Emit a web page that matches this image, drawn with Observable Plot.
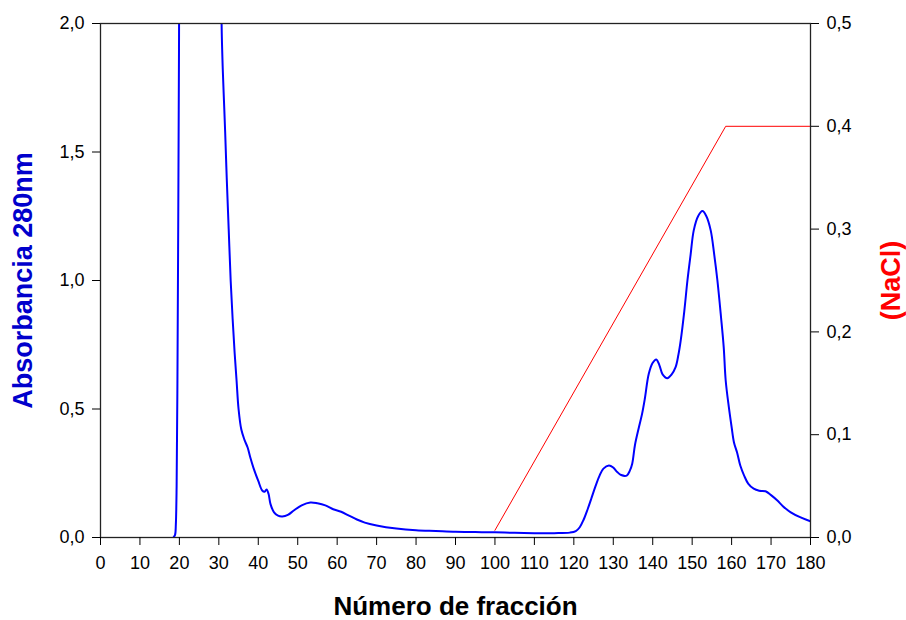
<!DOCTYPE html>
<html>
<head>
<meta charset="utf-8">
<script src="https://cdn.jsdelivr.net/npm/d3@7"></script>
<script src="https://cdn.jsdelivr.net/npm/@observablehq/plot@0.6"></script>
<style>
  html, body { margin: 0; padding: 0; background: #fff; }
</style>
</head>
<body>
<div id="chart"></div>
<script>
// Absorbance 280 nm (left axis) per fraction number
const fraction = [18.5, 18.9, 19.1, 19.3, 19.5, 19.7, 19.9, 20.1, 21, 25, 30, 30.5, 30.7, 31, 31.3, 31.6, 32, 32.5, 33, 33.5, 34, 34.5, 35, 35.7, 36.5, 37.3, 38, 38.8, 40, 41, 41.6, 42.1, 42.6, 43.1, 44, 45, 46.1, 47.5, 49, 51, 53.2, 55, 57, 59, 61, 63, 65, 67, 70, 75, 80, 85, 90, 95, 100, 105, 110, 115, 119, 120.5, 121.5, 122.5, 123.5, 124.4, 125.5, 126.5, 127.5, 128.9, 130, 131, 132, 133.4, 134.2, 134.8, 135.5, 136.5, 137.3, 138, 139, 140, 140.9, 141.7, 142.5, 143.7, 144.8, 145.8, 146.5, 147.1, 148, 148.8, 149.6, 150.4, 151.5, 152.6, 153.6, 154.7, 155.6, 156.4, 157.3, 158, 158.5, 159.3, 160, 160.6, 161.4, 162.2, 163.2, 164.2, 165.6, 167, 168.6, 170, 171.6, 173, 175, 177.5, 180];
const absorbance = [0, 0.01, 0.05, 0.2, 0.6, 1.2, 1.9, 2.6, 3.0, 3.0, 3.0, 2.6, 2.0, 1.82, 1.7, 1.58, 1.4, 1.2, 1.0, 0.85, 0.72, 0.61, 0.5, 0.42, 0.38, 0.35, 0.31, 0.27, 0.22, 0.183, 0.178, 0.187, 0.17, 0.13, 0.098, 0.085, 0.082, 0.088, 0.105, 0.125, 0.136, 0.133, 0.125, 0.11, 0.1, 0.085, 0.07, 0.058, 0.047, 0.035, 0.028, 0.025, 0.022, 0.021, 0.02, 0.018, 0.017, 0.017, 0.019, 0.025, 0.04, 0.07, 0.11, 0.15, 0.2, 0.24, 0.268, 0.28, 0.272, 0.255, 0.243, 0.241, 0.26, 0.287, 0.36, 0.429, 0.481, 0.54, 0.637, 0.68, 0.693, 0.67, 0.635, 0.62, 0.635, 0.663, 0.71, 0.767, 0.88, 1.0, 1.1, 1.195, 1.25, 1.27, 1.25, 1.195, 1.1, 1.0, 0.86, 0.74, 0.611, 0.507, 0.43, 0.37, 0.33, 0.28, 0.24, 0.21, 0.19, 0.182, 0.18, 0.165, 0.144, 0.122, 0.098, 0.078, 0.063];

// NaCl gradient (right axis)
const naclFraction = [100, 158.5, 180];
const nacl = [0.007, 0.4, 0.4];

const xTicks = [0, 10, 20, 30, 40, 50, 60, 70, 80, 90, 100, 110, 120, 130, 140, 150, 160, 170, 180];
const leftTicks = [0, 0.5, 1.0, 1.5, 2.0];
const rightTicks = [0, 0.1, 0.2, 0.3, 0.4, 0.5];

const xLabel = "Número de fracción";
const yLabel = "Absorbancia 280nm";
const y2Label = "(NaCl)";

const RATIO = 4; // left domain 0–2 vs right domain 0–0.5
const fmt = d => d.toFixed(1).replace(".", ",");

const absData = fraction.map((f, i) => ({f, a: absorbance[i]}));
const naclData = naclFraction.map((f, i) => ({f, c: nacl[i] * RATIO}));

const font = "'Liberation Sans', Arial, sans-serif";

const chart = Plot.plot({
  width: 906,
  height: 620,
  marginLeft: 100,
  marginRight: 96,
  marginTop: 23,
  marginBottom: 83,
  style: {fontFamily: font, fontSize: "18px", color: "#000", background: "#fff"},
  x: {domain: [0, 180]},
  y: {domain: [0, 2]},
  marks: [
    Plot.line(naclData, {x: "f", y: "c", stroke: "#ff0000", strokeWidth: 1}),
    Plot.line(absData, {x: "f", y: "a", stroke: "#0000ff", strokeWidth: 2, clip: true, curve: "catmull-rom"}),
    Plot.frame({stroke: "#222", strokeWidth: 1.3}),
    Plot.axisX({ticks: xTicks, tickSize: 8, tickPadding: 11, tickFormat: d => String(d), label: null, fontSize: 18}),
    Plot.axisY({ticks: leftTicks, tickSize: 8, tickPadding: 8, tickFormat: fmt, label: null, fontSize: 18}),
    Plot.axisY({anchor: "right", ticks: rightTicks.map(v => v * RATIO), tickSize: 8, tickPadding: 8, tickFormat: d => fmt(d / RATIO), label: null, fontSize: 18}),
    Plot.text([xLabel], {text: d => d, frameAnchor: "bottom", dy: 69, textAnchor: "middle", lineAnchor: "middle", fontSize: 26, fontWeight: "bold", fill: "#000"}),
    Plot.text([yLabel], {text: d => d, frameAnchor: "left", dx: -77, rotate: -90, textAnchor: "middle", lineAnchor: "middle", fontSize: 27, fontWeight: "bold", fill: "#0000cc"}),
    Plot.text([y2Label], {text: d => d, frameAnchor: "right", dx: 81, rotate: -90, textAnchor: "middle", lineAnchor: "middle", fontSize: 27, fontWeight: "bold", fill: "#ff0000"})
  ]
});

document.getElementById("chart").appendChild(chart);
</script>
</body>
</html>
